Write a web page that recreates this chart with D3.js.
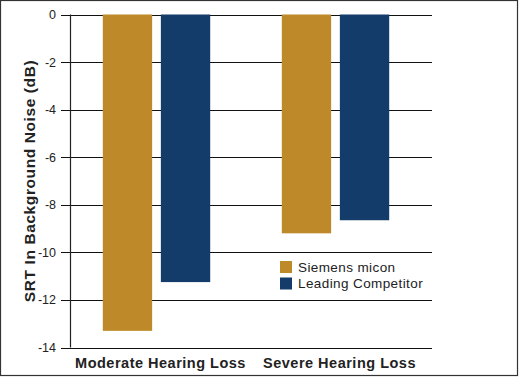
<!DOCTYPE html>
<html>
<head>
<meta charset="utf-8">
<script src="https://cdn.jsdelivr.net/npm/d3@7"></script>
<style>
  body { margin: 0; background: #fff; }
  text { font-family: "Liberation Sans", Arial, Helvetica, sans-serif; }
</style>
</head>
<body>
<div id="chartArea"></div>
<script>
// data
const groups = ['Moderate Hearing Loss', 'Severe Hearing Loss'];
const series = ['Siemens micon', 'Leading Competitor'];
const siemensValues = [-13.3, -9.2];
const competitorValues = [-11.25, -8.65];
const yTicks = [0, -2, -4, -6, -8, -10, -12, -14];
const colors = ['#be8a29', '#133c6b'];

const rows = groups.map((g, i) => ({ group: g, values: [siemensValues[i], competitorValues[i]] }));

const width = 519;
const height = 377;

const svg = d3.select('#chartArea').append('svg')
  .attr('width', width)
  .attr('height', height);

// outer frame
svg.append('rect')
  .attr('x', 0.5).attr('y', 0.5)
  .attr('width', width - 2).attr('height', height - 2)
  .attr('fill', '#fff')
  .attr('stroke', '#333')
  .attr('stroke-width', 1.2);

const y = d3.scaleLinear().domain([0, -14]).range([14.5, 347.5]);

const x0 = d3.scaleBand()
  .domain(groups)
  .range([67, 425])
  .paddingInner(0.4)
  .paddingOuter(0.2);

const x1 = d3.scaleBand()
  .domain(series)
  .range([0, x0.bandwidth()])
  .paddingInner(0.15);

// gridlines (also serve as ticks)
svg.append('g')
  .selectAll('line')
  .data(yTicks)
  .enter()
  .append('line')
  .attr('x1', 61)
  .attr('x2', 432)
  .attr('y1', (d) => Math.round(y(d)) + 0.5)
  .attr('y2', (d) => Math.round(y(d)) + 0.5)
  .attr('stroke', '#111')
  .attr('stroke-width', 1.1);

// bars
const gBars = svg.append('g')
  .selectAll('g')
  .data(rows)
  .enter()
  .append('g')
  .attr('transform', (d) => `translate(${x0(d.group)},0)`);

gBars.selectAll('rect')
  .data((d) => d.values.map((v, i) => ({ key: series[i], value: v, i })))
  .enter()
  .append('rect')
  .attr('x', (d) => x1(d.key))
  .attr('y', y(0))
  .attr('width', x1.bandwidth())
  .attr('height', (d) => y(d.value) - y(0))
  .attr('fill', (d) => colors[d.i]);

// y axis line
svg.append('line')
  .attr('x1', 70.5).attr('x2', 70.5)
  .attr('y1', y(0)).attr('y2', y(-14))
  .attr('stroke', '#222')
  .attr('stroke-width', 1.2);

// tick labels
svg.append('g')
  .selectAll('text')
  .data(yTicks)
  .enter()
  .append('text')
  .attr('x', 56)
  .attr('y', (d) => y(d) + 4.5)
  .attr('text-anchor', 'end')
  .attr('font-size', 12.5)
  .attr('fill', '#222')
  .text((d) => d3.format('d')(d).replace('−', '-'));

// y axis title
svg.append('text')
  .attr('transform', 'translate(35,181) rotate(-90)')
  .attr('text-anchor', 'middle')
  .attr('font-size', 15.5)
  .attr('font-weight', 'bold')
  .attr('letter-spacing', 0.6)
  .attr('fill', '#222')
  .text('SRT In Background Noise (dB)');

// group labels
svg.append('g')
  .selectAll('text')
  .data(groups)
  .enter()
  .append('text')
  .attr('x', (d) => x0(d) + x0.bandwidth() / 2 + 4)
  .attr('y', 368)
  .attr('text-anchor', 'middle')
  .attr('font-size', 14.5)
  .attr('font-weight', 'bold')
  .attr('letter-spacing', 0.5)
  .attr('fill', '#222')
  .text((d) => d);

// legend
const legend = svg.append('g')
  .selectAll('g')
  .data(series)
  .enter()
  .append('g')
  .attr('transform', (d, i) => `translate(280,${261 + i * 16.5})`);

legend.append('rect')
  .attr('width', 12)
  .attr('height', 12)
  .attr('fill', (d, i) => colors[i]);

legend.append('text')
  .attr('x', 18)
  .attr('y', 10.5)
  .attr('font-size', 13.5)
  .attr('letter-spacing', 0.4)
  .attr('fill', '#222')
  .text((d) => d);
</script>
</body>
</html>
